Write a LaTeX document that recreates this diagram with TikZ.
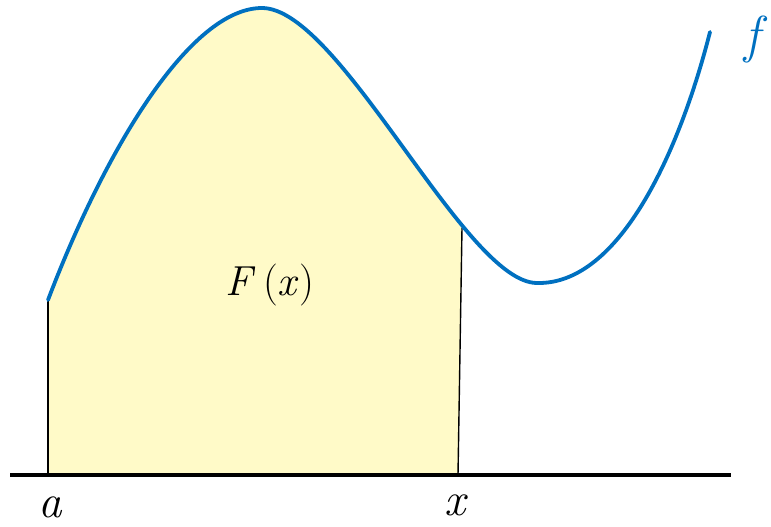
\documentclass[tikz,border=0pt]{standalone}
\usepackage{tikz}
\definecolor{curveblue}{HTML}{0070C0}
\definecolor{areayellow}{HTML}{FFFAC8}
\tikzset{
  curve/.style={draw=curveblue, line width=3.8pt, line cap=round},
  edge/.style={draw=black, line width=1.4pt},
  axisline/.style={draw=black, line width=4pt},
  lbl/.style={inner sep=0pt, font=\fontsize{42}{50}\selectfont},
  axlbl/.style={inner sep=0pt, font=\fontsize{47}{56}\selectfont\itshape},
}
\begin{document}
\begin{tikzpicture}[x=1pt,y=-1pt]
\useasboundingbox (0,0) rectangle (771,527);
% named points
\coordinate (A0) at (48,475);
\coordinate (A1) at (48,300);
\coordinate (P) at (262,8);
\coordinate (M) at (537,283);
\coordinate (E) at (710,32);
\coordinate (X0) at (458,475);
\coordinate (X1) at (462,228);
\coordinate (L) at (10,475);
\coordinate (R) at (731,475);
% area
\begin{scope}
  \clip (40,0) -- (465.7,0) -- (X0) -- (40,475) -- cycle;
  \fill[areayellow] (A0) -- (A1) .. controls (105,150) and (190,8) .. (P)
    .. controls (340,8) and (465,283) .. (M) -- (M |- A0) -- cycle;
\end{scope}
% verticals
\draw[edge] (A0) -- (A1);
\draw[edge] (X0) -- (X1);
% curve
\draw[curve] (A1) .. controls (105,150) and (190,8) .. (P)
  .. controls (340,8) and (465,283) .. (M)
  .. controls (620,285) and (680,150) .. (E);
% axis
\draw[axisline] (L) -- (R);
% labels
\node[axlbl] (la) at (50,507) {a};
\node[axlbl] (lx) at (455,505) {x};
\node[lbl] (lF) at (270,285) {\textit{F}\,(\textit{x})};
\node[lbl, text=curveblue, font=\fontsize{52}{60}\selectfont\itshape] (lf) at (752,40) {f};
\end{tikzpicture}
\end{document}
